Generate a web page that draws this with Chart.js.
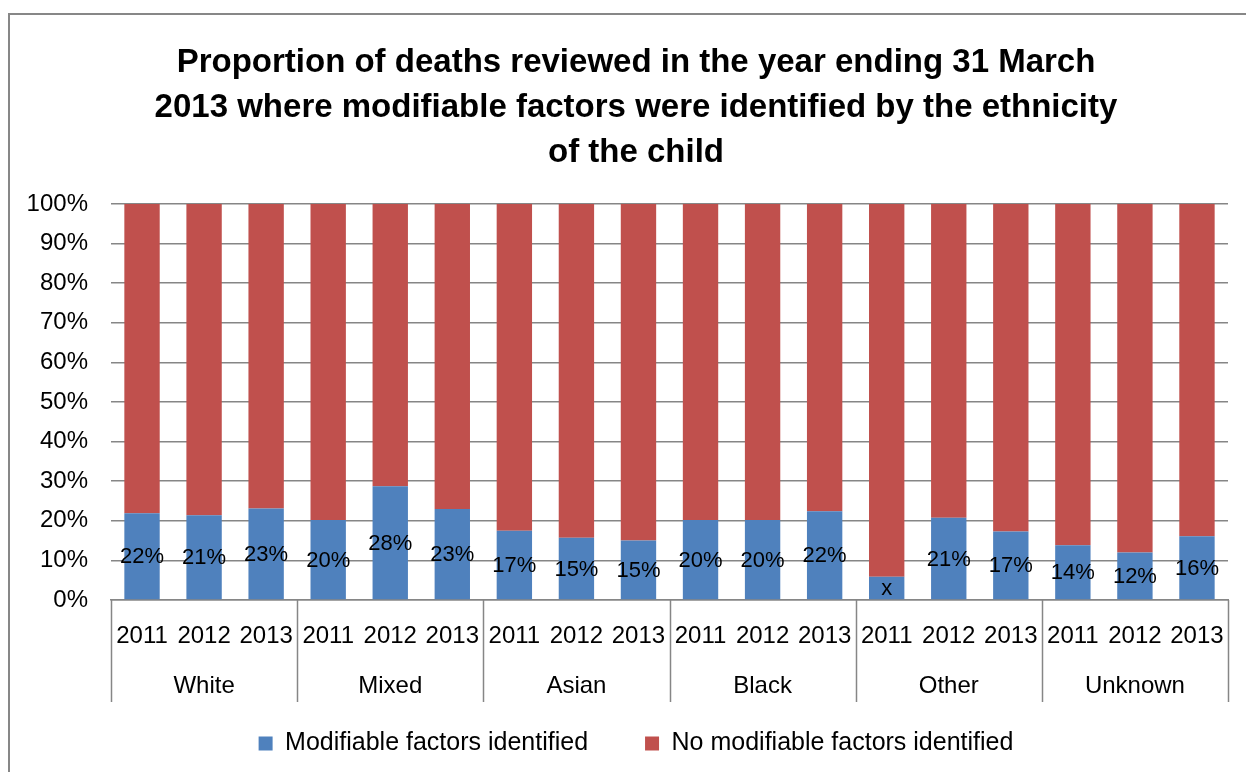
<!DOCTYPE html>
<html>
<head>
<meta charset="utf-8">
<script src="https://cdn.jsdelivr.net/npm/chart.js@4/dist/chart.umd.min.js"></script>
<style>
  html, body { margin: 0; padding: 0; background: #fff; }
  #wrap { position: relative; width: 1246px; height: 772px; }
</style>
</head>
<body>
<div id="wrap"><canvas id="c" width="1246" height="772"></canvas></div>
<script>
const titleLines = [
  'Proportion of deaths reviewed in the year ending 31 March',
  '2013 where modifiable factors were identified by the ethnicity',
  'of the child'
];
const groups = ['White', 'Mixed', 'Asian', 'Black', 'Other', 'Unknown'];
const years = ['2011', '2012', '2013'];
const seriesNames = ['Modifiable factors identified', 'No modifiable factors identified'];
const modifiable = [21.9, 21.4, 23.1, 20.2, 28.7, 23.0, 17.5, 15.7, 15.0, 20.2, 20.2, 22.4, 5.9, 20.8, 17.3, 13.8, 12.0, 16.1];
const notModifiable = [78.1, 78.6, 76.9, 79.8, 71.3, 77.0, 82.5, 84.3, 85.0, 79.8, 79.8, 77.6, 94.1, 79.2, 82.7, 86.2, 88.0, 83.9];
const modLabels = ['22%', '21%', '23%', '20%', '28%', '23%', '17%', '15%', '15%', '20%', '20%', '22%', 'x', '21%', '17%', '14%', '12%', '16%'];
const yTicks = [0, 10, 20, 30, 40, 50, 60, 70, 80, 90, 100];

const categories = [];
groups.forEach(() => years.forEach(y => categories.push(y)));

const FONT = '"Liberation Sans", Arial, sans-serif';
const GRID = '#868686';
const PAD_LEFT = 44;
const Y_LABEL_GAP = 23;

// width of the widest y tick label, used to right-align mirrored labels outside the plot
const mctx = document.createElement('canvas').getContext('2d');
mctx.font = '24px ' + FONT;
const widestY = Math.max(...yTicks.map(v => mctx.measureText(v + '%').width));

const framePlugin = {
  id: 'frame',
  beforeDraw(chart) {
    const ctx = chart.ctx;
    ctx.save();
    ctx.fillStyle = '#fff';
    ctx.fillRect(0, 0, chart.width, chart.height);
    ctx.strokeStyle = '#878787';
    ctx.lineWidth = 2;
    ctx.beginPath();
    ctx.moveTo(9, chart.height + 5);
    ctx.lineTo(9, 14);
    ctx.lineTo(chart.width + 5, 14);
    ctx.stroke();
    ctx.restore();
  }
};

const groupAxisPlugin = {
  id: 'groupAxis',
  afterDraw(chart) {
    const ctx = chart.ctx;
    const x = chart.scales.x;
    const top = chart.chartArea.bottom;
    const n = years.length;
    const slot = (x.right - x.left) / categories.length;
    ctx.save();
    ctx.strokeStyle = GRID;
    ctx.lineWidth = 1.5;
    for (let g = 0; g <= groups.length; g++) {
      const gx = Math.round(x.left + g * n * slot) + 0.5;
      ctx.beginPath();
      ctx.moveTo(gx, top);
      ctx.lineTo(gx, top + 102);
      ctx.stroke();
    }
    ctx.fillStyle = '#000';
    ctx.font = '24px ' + FONT;
    ctx.textAlign = 'center';
    ctx.textBaseline = 'middle';
    groups.forEach((name, g) => {
      const cx = x.left + (g * n + n / 2) * slot;
      ctx.fillText(name, cx, top + 86);
    });
    ctx.restore();
  }
};

const dataLabelPlugin = {
  id: 'dataLabels',
  afterDatasetsDraw(chart) {
    const ctx = chart.ctx;
    const meta = chart.getDatasetMeta(0);
    ctx.save();
    ctx.fillStyle = '#000';
    ctx.font = '22px ' + FONT;
    ctx.textAlign = 'center';
    ctx.textBaseline = 'middle';
    meta.data.forEach((bar, i) => {
      const cy = (bar.y + bar.base) / 2;
      ctx.fillText(modLabels[i], bar.x, cy + 1);
    });
    ctx.restore();
  }
};

new Chart(document.getElementById('c'), {
  type: 'bar',
  data: {
    labels: categories,
    datasets: [
      { label: seriesNames[0], data: modifiable, backgroundColor: '#4F81BD', borderWidth: 0 },
      { label: seriesNames[1], data: notModifiable, backgroundColor: '#C0504D', borderWidth: 0 }
    ]
  },
  options: {
    responsive: false,
    animation: false,
    devicePixelRatio: 1,
    layout: { padding: { left: PAD_LEFT, right: 18, top: 0, bottom: 6 } },
    datasets: { bar: { barPercentage: 0.57, categoryPercentage: 1.0 } },
    scales: {
      x: {
        stacked: true,
        grid: { display: false },
        border: { display: true, color: GRID, width: 1.5 },
        ticks: { color: '#000', font: { family: FONT, size: 24 }, padding: 14, maxRotation: 0, autoSkip: false },
        afterFit(scale) { scale.height = 74; }
      },
      y: {
        stacked: true,
        min: 0,
        max: 100,
        afterBuildTicks(scale) { scale.ticks = yTicks.map(v => ({ value: v })); },
        grid: { color: GRID, lineWidth: 1.5, drawTicks: false },
        border: { display: false },
        ticks: {
          color: '#000',
          font: { family: FONT, size: 24 },
          mirror: true,
          crossAlign: 'far',
          padding: -(Y_LABEL_GAP + widestY),
          callback: v => v + '%'
        },
        afterFit(scale) { scale.width = 111 - PAD_LEFT; }
      }
    },
    plugins: {
      title: {
        display: true,
        text: titleLines,
        color: '#000',
        font: { family: FONT, size: 33, weight: 'bold', lineHeight: 1.364 },
        padding: { top: 40, bottom: 29 }
      },
      legend: {
        position: 'bottom',
        labels: {
          color: '#000',
          font: { family: FONT, size: 25 },
          boxWidth: 14,
          boxHeight: 14,
          padding: 57,
          useBorderRadius: false
        }
      },
      tooltip: { enabled: false }
    }
  },
  plugins: [framePlugin, groupAxisPlugin, dataLabelPlugin]
});
</script>
</body>
</html>
